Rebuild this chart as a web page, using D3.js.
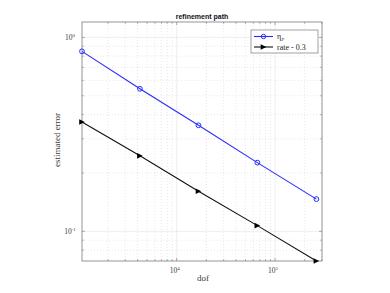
<!DOCTYPE html>
<html><head><meta charset="utf-8">
<script src="https://cdn.jsdelivr.net/npm/d3@7"></script>
<style>body{margin:0;background:#fff}</style>
</head><body>
<script>
const dof = [1089, 4225, 16641, 66049, 263169];
const etaP = [0.847, 0.543, 0.352, 0.226, 0.1466];
const rate = [0.366, 0.245, 0.161, 0.107, 0.0703];
const xTicks = [1e4, 1e5];
const xTickLabels = ["4", "5"];
const yTicks = [0.1, 1];
const yTickLabels = ["-1", "0"];
const seriesNames = ["\u03B7", "rate - 0.3"];

const W = 390, H = 293;
const L = 82, R = 322, T = 22, B = 261;
const svg = d3.select("body").append("svg").attr("width", W).attr("height", H);

const x = d3.scaleLog().domain([1089, 3e5]).range([L, R]);
const y = d3.scaleLog().domain([0.0703, 1.2]).range([B, T]);

const xMinor = [];
for (let d = 1e3; d <= 1e5; d *= 10) for (let k = 1; k <= 9; k++) { const v = d * k; if (v >= 1089 && v <= 3e5) xMinor.push(v); }
const yMinor = [];
for (let d = 0.01; d <= 1; d *= 10) for (let k = 1; k <= 9; k++) { const v = d * k; if (v >= 0.0703 && v <= 1.2) yMinor.push(v); }

const g = svg.append("g");
g.selectAll(".gx").data(xMinor.filter(v => !xTicks.includes(v))).enter().append("line")
  .attr("x1", d => x(d)).attr("x2", d => x(d)).attr("y1", T).attr("y2", B)
  .attr("stroke", "#d6d6d6").attr("stroke-width", 0.6).attr("stroke-dasharray", "1,2");
g.selectAll(".gy").data(yMinor.filter(v => Math.abs(v - 0.1) > 1e-9 && Math.abs(v - 1) > 1e-9)).enter().append("line")
  .attr("x1", L).attr("x2", R).attr("y1", d => y(d)).attr("y2", d => y(d))
  .attr("stroke", "#d6d6d6").attr("stroke-width", 0.6).attr("stroke-dasharray", "1,2");
g.selectAll(".mx").data(xTicks).enter().append("line")
  .attr("x1", d => x(d)).attr("x2", d => x(d)).attr("y1", T).attr("y2", B)
  .attr("stroke", "#e3e3e3").attr("stroke-width", 0.6);
g.selectAll(".my").data(yTicks).enter().append("line")
  .attr("x1", L).attr("x2", R).attr("y1", d => y(d)).attr("y2", d => y(d))
  .attr("stroke", "#e3e3e3").attr("stroke-width", 0.6);

svg.append("rect").attr("x", L).attr("y", T).attr("width", R - L).attr("height", B - T)
  .attr("fill", "none").attr("stroke", "#7a7a7a").attr("stroke-width", 0.8);

const tk = svg.append("g").attr("stroke", "#7a7a7a").attr("stroke-width", 0.6);
xMinor.forEach(v => {
  const len = xTicks.includes(v) ? 3 : 1.8;
  tk.append("line").attr("x1", x(v)).attr("x2", x(v)).attr("y1", B).attr("y2", B - len);
  tk.append("line").attr("x1", x(v)).attr("x2", x(v)).attr("y1", T).attr("y2", T + len);
});
yMinor.forEach(v => {
  const maj = yTicks.some(t => Math.abs(t - v) < 1e-9);
  const len = maj ? 3 : 1.8;
  tk.append("line").attr("y1", y(v)).attr("y2", y(v)).attr("x1", L).attr("x2", L + len);
  tk.append("line").attr("y1", y(v)).attr("y2", y(v)).attr("x1", R).attr("x2", R - len);
});

const txt = "#3a3a3a";
xTicks.forEach((v, i) => {
  const t = svg.append("text").attr("x", x(v) - 2).attr("y", B + 12).attr("text-anchor", "middle")
    .attr("font-family", "Liberation Serif").attr("font-size", 7.5).attr("fill", txt);
  t.append("tspan").text("10");
  t.append("tspan").attr("dy", -3.2).attr("font-size", 5).text(xTickLabels[i]);
});
yTicks.forEach((v, i) => {
  const t = svg.append("text").attr("x", L - 12).attr("y", y(v) + 2.5).attr("text-anchor", "middle")
    .attr("font-family", "Liberation Serif").attr("font-size", 7.5).attr("fill", txt);
  t.append("tspan").text("10");
  t.append("tspan").attr("dy", -3.2).attr("font-size", 5).text(yTickLabels[i]);
});

svg.append("text").attr("x", (L + R) / 2).attr("y", 18.5).attr("text-anchor", "middle")
  .attr("font-family", "Liberation Sans").attr("font-weight", "bold").attr("font-size", 7).attr("fill", "#111")
  .text("refinement path");
svg.append("text").attr("x", 203).attr("y", 281).attr("text-anchor", "middle")
  .attr("font-family", "Liberation Serif").attr("font-size", 9).attr("fill", txt).text("dof");
svg.append("text").attr("transform", "translate(60,140) rotate(-90)").attr("text-anchor", "middle")
  .attr("font-family", "Liberation Serif").attr("font-size", 9).attr("fill", txt).text("estimated error");

const line = d3.line().x(d => x(d[0])).y(d => y(d[1]));
const blue = "#2a2aff";
const s1 = dof.map((d, i) => [d, etaP[i]]);
const s2 = dof.map((d, i) => [d, rate[i]]);
svg.append("path").attr("d", line(s1)).attr("fill", "none").attr("stroke", blue).attr("stroke-width", 1.1);
svg.selectAll(".c").data(s1).enter().append("circle")
  .attr("cx", d => x(d[0])).attr("cy", d => y(d[1])).attr("r", 2.4)
  .attr("fill", "none").attr("stroke", blue).attr("stroke-width", 1);
svg.append("path").attr("d", line(s2)).attr("fill", "none").attr("stroke", "#111").attr("stroke-width", 1.1);
const tri = "M-2.8,-2.8L2.8,0L-2.8,2.8Z";
svg.selectAll(".t").data(s2).enter().append("path")
  .attr("transform", d => `translate(${x(d[0])},${y(d[1])})`).attr("d", tri).attr("fill", "#000");

const lg = svg.append("g");
lg.append("rect").attr("x", 251).attr("y", 30).attr("width", 67).attr("height", 23)
  .attr("fill", "#fff").attr("stroke", "#7a7a7a").attr("stroke-width", 0.7);
lg.append("line").attr("x1", 254).attr("x2", 273).attr("y1", 36.5).attr("y2", 36.5).attr("stroke", blue).attr("stroke-width", 1.1);
lg.append("circle").attr("cx", 263.5).attr("cy", 36.5).attr("r", 2.2).attr("fill", "none").attr("stroke", blue).attr("stroke-width", 1);
lg.append("line").attr("x1", 254).attr("x2", 273).attr("y1", 47).attr("y2", 47).attr("stroke", "#111").attr("stroke-width", 1.1);
lg.append("path").attr("transform", "translate(263.5,47)").attr("d", tri).attr("fill", "#000");
const t1 = lg.append("text").attr("x", 277).attr("y", 39).attr("font-family", "Liberation Serif").attr("font-size", 8).attr("fill", "#222");
t1.append("tspan").text(seriesNames[0]);
t1.append("tspan").attr("dy", 1.5).attr("font-size", 5).attr("font-style", "italic").text("P");
lg.append("text").attr("x", 277).attr("y", 49.5).attr("font-family", "Liberation Serif").attr("font-size", 8).attr("fill", "#222").text(seriesNames[1]);
</script>
</body></html>
